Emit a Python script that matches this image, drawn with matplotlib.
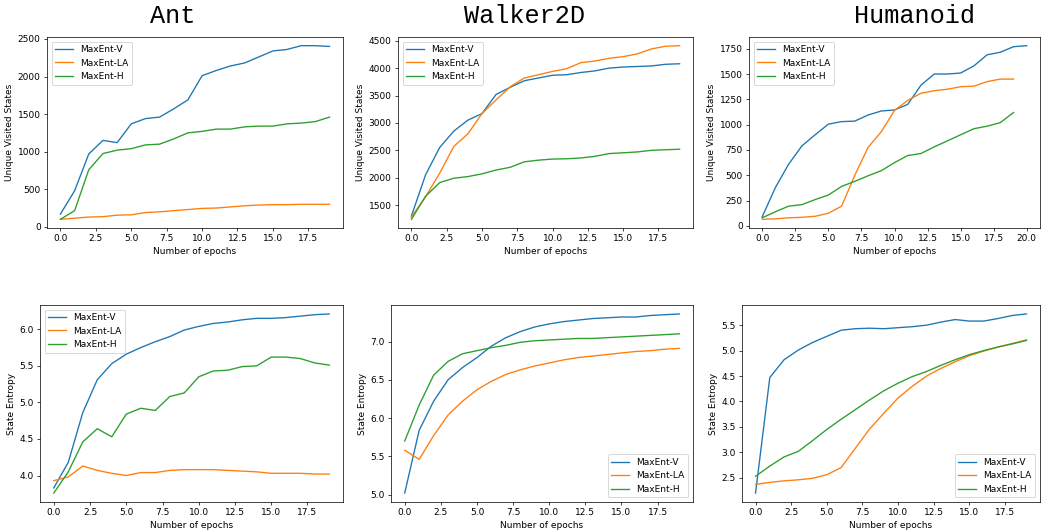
import matplotlib
matplotlib.use('Agg')
import matplotlib.pyplot as plt

# epochs
epochs = list(range(20))
epochs_21 = list(range(21))

# Ant
ant_states_v = [170, 480, 970, 1150, 1120, 1370, 1440, 1460, 1570, 1690, 2010, 2080, 2140, 2180, 2260, 2340, 2360, 2410, 2410, 2400]
ant_states_la = [100, 115, 130, 135, 155, 160, 190, 200, 215, 230, 245, 250, 265, 280, 290, 295, 295, 300, 300, 300]
ant_states_h = [100, 215, 760, 975, 1020, 1040, 1090, 1100, 1170, 1250, 1270, 1300, 1300, 1330, 1340, 1340, 1370, 1380, 1400, 1460]
ant_ent_v = [3.83, 4.18, 4.86, 5.31, 5.53, 5.66, 5.75, 5.83, 5.90, 5.99, 6.04, 6.08, 6.10, 6.13, 6.15, 6.15, 6.16, 6.18, 6.20, 6.21]
ant_ent_la = [3.93, 3.98, 4.13, 4.07, 4.03, 4.00, 4.04, 4.04, 4.07, 4.08, 4.08, 4.08, 4.07, 4.06, 4.05, 4.03, 4.03, 4.03, 4.02, 4.02]
ant_ent_h = [3.76, 4.05, 4.46, 4.64, 4.53, 4.84, 4.92, 4.89, 5.08, 5.13, 5.35, 5.43, 5.44, 5.49, 5.50, 5.62, 5.62, 5.60, 5.54, 5.51]

# Walker2D
walker_states_v = [1300, 2050, 2550, 2850, 3050, 3170, 3520, 3650, 3770, 3820, 3870, 3880, 3920, 3950, 4000, 4020, 4030, 4040, 4070, 4080]
walker_states_la = [1280, 1650, 2080, 2570, 2800, 3170, 3420, 3660, 3820, 3880, 3940, 3990, 4100, 4130, 4180, 4210, 4260, 4350, 4400, 4410]
walker_states_h = [1240, 1660, 1910, 1990, 2020, 2070, 2140, 2190, 2290, 2320, 2340, 2345, 2360, 2390, 2440, 2455, 2470, 2500, 2510, 2520]
walker_ent_v = [5.02, 5.84, 6.22, 6.50, 6.66, 6.79, 6.94, 7.05, 7.13, 7.19, 7.23, 7.26, 7.28, 7.30, 7.31, 7.32, 7.32, 7.34, 7.35, 7.36]
walker_ent_la = [5.58, 5.46, 5.77, 6.04, 6.22, 6.37, 6.48, 6.57, 6.63, 6.68, 6.72, 6.76, 6.79, 6.81, 6.83, 6.85, 6.87, 6.88, 6.90, 6.91]
walker_ent_h = [5.70, 6.17, 6.56, 6.74, 6.84, 6.88, 6.92, 6.95, 6.99, 7.01, 7.02, 7.03, 7.04, 7.04, 7.05, 7.06, 7.07, 7.08, 7.09, 7.10]

# Humanoid
hum_states_v = [90, 380, 610, 790, 900, 1005, 1030, 1035, 1095, 1135, 1145, 1200, 1390, 1500, 1500, 1510, 1580, 1690, 1715, 1770, 1780]
hum_states_la = [65, 70, 80, 85, 95, 125, 195, 500, 775, 930, 1140, 1240, 1310, 1335, 1350, 1375, 1380, 1425, 1450, 1450]
hum_states_h = [80, 140, 195, 210, 260, 305, 390, 440, 495, 545, 625, 695, 715, 780, 840, 900, 960, 985, 1020, 1120]
hum_ent_v = [2.20, 4.47, 4.82, 5.01, 5.16, 5.28, 5.40, 5.43, 5.44, 5.43, 5.45, 5.47, 5.50, 5.56, 5.61, 5.58, 5.58, 5.63, 5.69, 5.72]
hum_ent_la = [2.37, 2.41, 2.44, 2.46, 2.49, 2.56, 2.70, 3.08, 3.46, 3.77, 4.07, 4.30, 4.50, 4.65, 4.78, 4.90, 4.99, 5.07, 5.14, 5.21]
hum_ent_h = [2.53, 2.73, 2.91, 3.02, 3.23, 3.45, 3.65, 3.84, 4.03, 4.21, 4.36, 4.49, 4.59, 4.71, 4.82, 4.92, 5.00, 5.07, 5.13, 5.20]

envs = ['Ant', 'Walker2D', 'Humanoid']
labels = ['MaxEnt-V', 'MaxEnt-LA', 'MaxEnt-H']

W, H = 1042, 531
DPI = 65
fig = plt.figure(figsize=(W / DPI, H / DPI), dpi=DPI)

def box(l, r, t, b):
    return [l / W, 1 - b / H, (r - l) / W, (b - t) / H]

top_boxes = [box(47, 343, 37, 228), box(398, 693, 37, 228), box(749, 1040, 37, 228)]
bot_boxes = [box(40, 343, 305, 502), box(391, 693, 305, 502), box(742, 1040, 305, 502)]

top_data = [
    (epochs, ant_states_v, epochs, ant_states_la, ant_states_h),
    (epochs, walker_states_v, epochs, walker_states_la, walker_states_h),
    (epochs_21, hum_states_v, epochs, hum_states_la, hum_states_h),
]
bot_data = [
    (ant_ent_v, ant_ent_la, ant_ent_h, 'upper left'),
    (walker_ent_v, walker_ent_la, walker_ent_h, 'lower right'),
    (hum_ent_v, hum_ent_la, hum_ent_h, 'lower right'),
]

for i in range(3):
    ax = fig.add_axes(top_boxes[i])
    xv, v, x2, la, h = top_data[i]
    ax.plot(xv, v, label=labels[0])
    ax.plot(x2, la, label=labels[1])
    ax.plot(x2, h, label=labels[2])
    ax.set_xlabel('Number of epochs')
    ax.set_ylabel('Unique Visited States')
    ax.legend(loc='upper left')

    ax = fig.add_axes(bot_boxes[i])
    v, la, h, loc = bot_data[i]
    ax.plot(epochs, v, label=labels[0])
    ax.plot(epochs, la, label=labels[1])
    ax.plot(epochs, h, label=labels[2])
    ax.set_xlabel('Number of epochs')
    ax.set_ylabel('State Entropy')
    ax.legend(loc=loc)

title_x = [173, 525, 914]
for name, tx in zip(envs, title_x):
    fig.text(tx / W, 1 - 16 / H, name, ha='center', va='center',
             fontsize=28, family='Liberation Mono')

fig.savefig('out.png', dpi=DPI)
